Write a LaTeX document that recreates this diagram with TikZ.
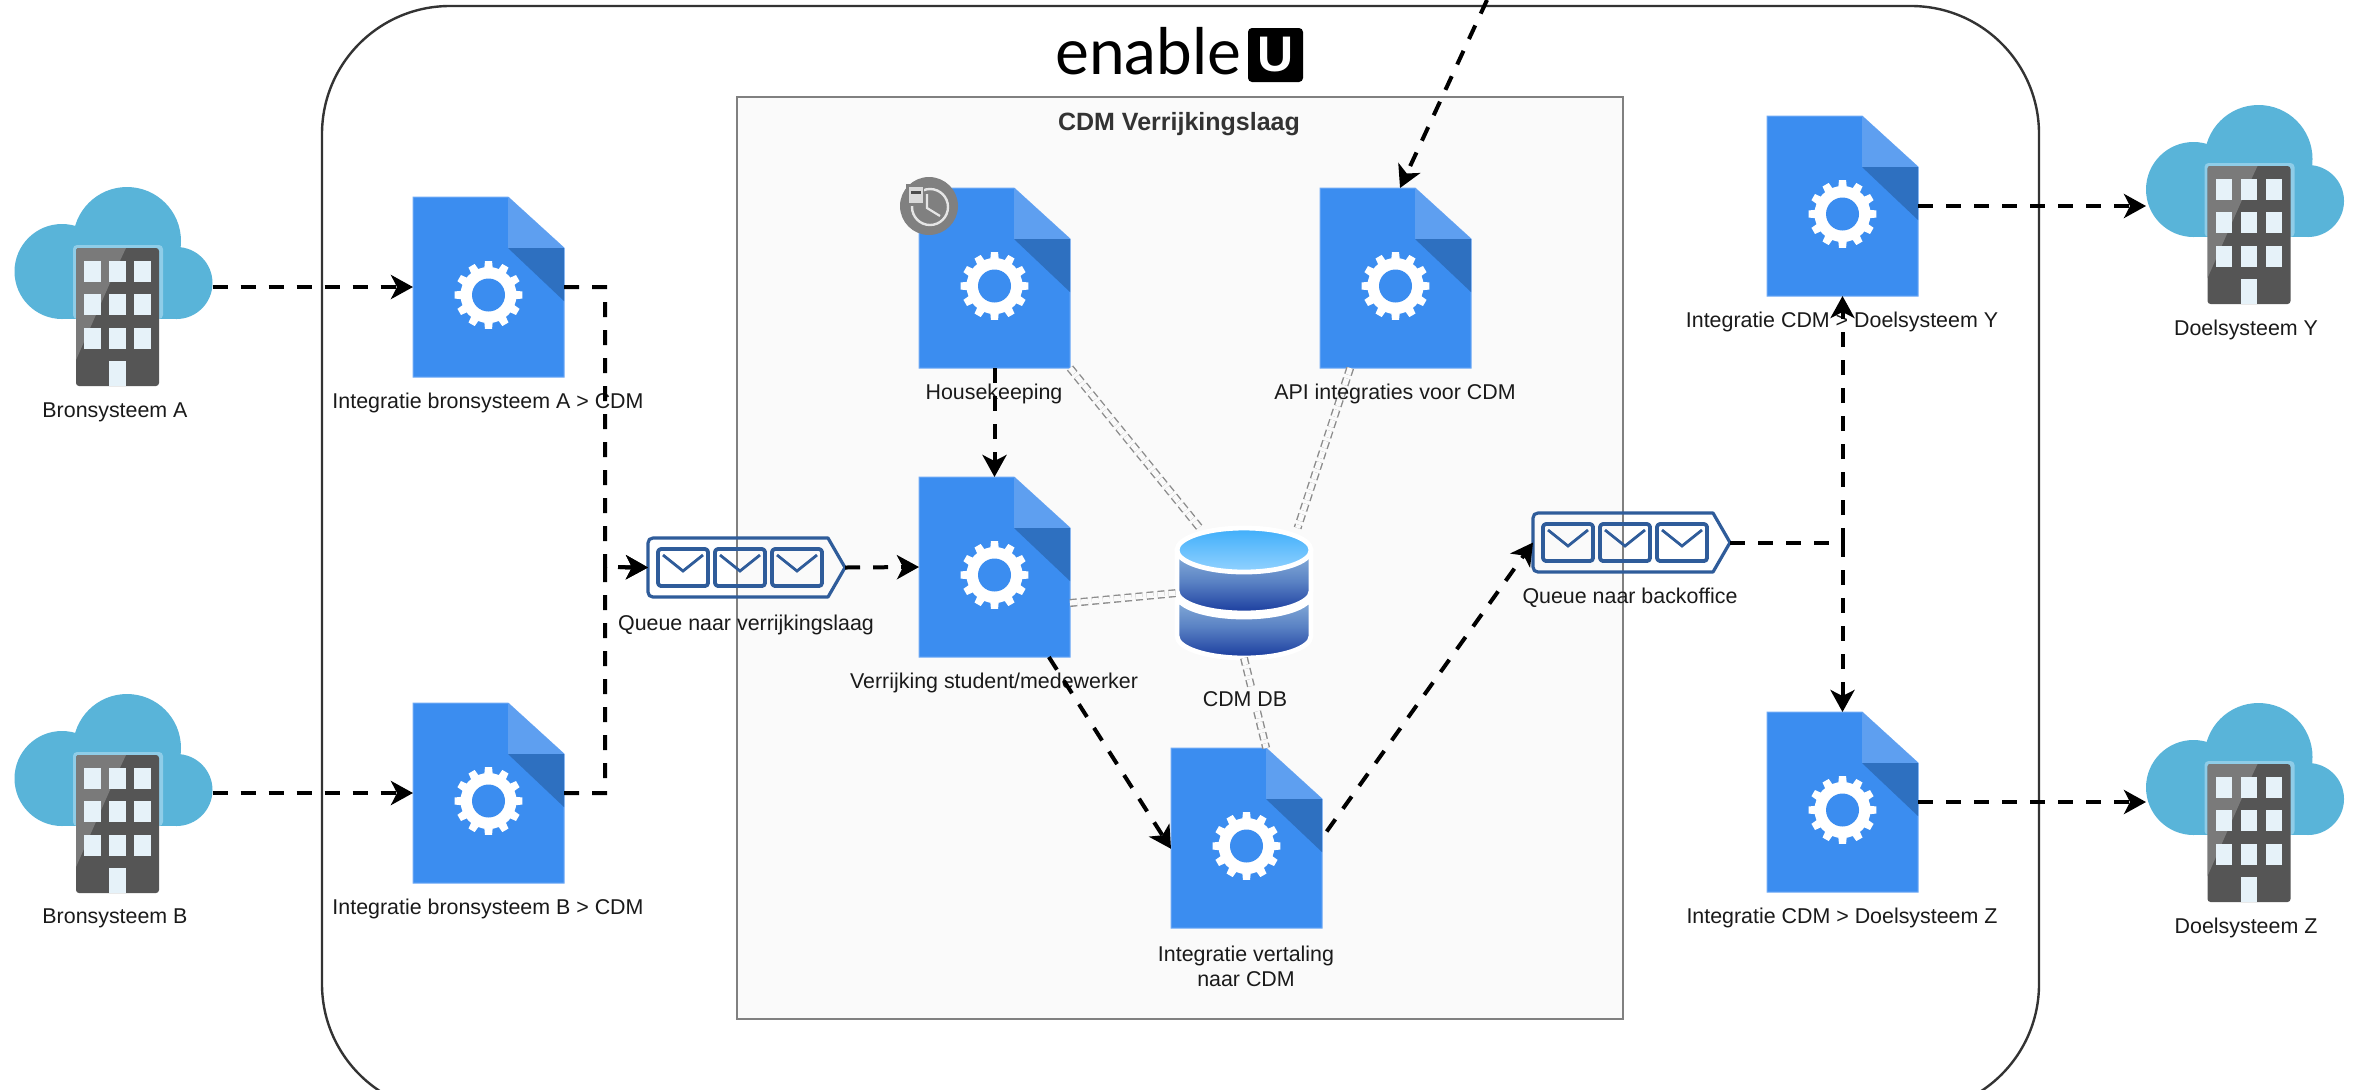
\documentclass[tikz,border=0pt]{standalone}
\usepackage{fontspec}
\setmainfont{Liberation Sans}
\newfontfamily\logofont{Lato}
\usetikzlibrary{arrows.meta,calc}
\definecolor{docmain}{HTML}{3B8DF0}
\definecolor{docedge}{HTML}{6FAAF6}
\definecolor{doclight}{HTML}{5E9FF0}
\definecolor{docdark}{HTML}{2E70C0}
\definecolor{cloudblue}{HTML}{59B4D9}
\definecolor{cloudhalo}{HTML}{8FCDE8}
\definecolor{towerdark}{HTML}{555555}
\definecolor{towerlight}{HTML}{7A7A7A}
\definecolor{towerpane}{HTML}{E6F2F9}
\definecolor{queueblue}{HTML}{2F5C9A}
\definecolor{layerbg}{HTML}{FAFAFA}
\definecolor{txt}{HTML}{1A1A1A}
\definecolor{dbtoptop}{HTML}{3FAEFA}
\definecolor{dbtopbot}{HTML}{92D2FF}
\definecolor{dbbandtop}{HTML}{8DB4DC}
\definecolor{dbbandmid}{HTML}{5A82C4}
\definecolor{dbbandbot}{HTML}{1A3C9E}
\tikzset{
  iconbox/.style 2 args={minimum width=#1*0.5pt,minimum height=#2*0.5pt,inner sep=0pt,outer sep=0pt},
  lbl/.style={font=\fontsize{10.7}{12.5}\selectfont,text=txt,inner sep=0pt,align=center},
  flow/.style={draw=black,line width=2pt,dash pattern=on 7.5pt off 6.5pt,-{Stealth[length=11pt,width=12pt,inset=3pt]}},
  dblink/.style={draw=black!45,line width=.7pt,double=layerbg,double distance=2.6pt,dash pattern=on 3.5pt off 2pt},
  pane/.style={fill=towerpane},
  env/.style={draw=queueblue,line width=1.9pt,rounded corners=1.5pt,line join=round},
  dbband/.style={draw=white,line width=2.4pt,top color=dbbandtop,bottom color=dbbandbot,middle color=dbbandmid},
}
\newcommand{\docicon}[3]{%
  \node[iconbox={151}{180}] (#1) at (#2+75.5,#3+90) {};
  \begin{scope}[shift={(#2,#3)}]
    \fill[docmain,draw=docedge,line width=.5pt] (0,0) -- (95,0) -- (151,51) -- (151,180) -- (0,180) -- cycle;
    \fill[doclight] (95,0) -- (151,51) -- (95,51) -- cycle;
    \fill[docdark] (95,51) -- (151,51) -- (151,104) -- cycle;
    \begin{scope}[shift={(75.5,98)}]
      \fill[white] (0,0) circle[radius=28];
      \foreach \a in {0,30,...,330} {
        \fill[white] (\a-9:27) -- (\a-6:34) -- (\a+6:34) -- (\a+9:27) -- cycle;
      }
      \fill[docmain] (0,0) circle[radius=16.5];
    \end{scope}
  \end{scope}}
\newcommand{\cloudicon}[3]{%
  \node[iconbox={198}{132}] (#1) at (#2+99,#3+66) {};
  \begin{scope}[shift={(#2,#3)}]
    \fill[cloudblue] (47.5,84.5) circle[radius=47.5];
    \fill[cloudblue] (112.5,54) circle[radius=54];
    \fill[cloudblue] (162,96) circle[radius=36];
    \fill[cloudblue] (47.5,60) rectangle (162,132);
    \fill[cloudhalo,rounded corners=2pt] (58.5,58) rectangle (148.5,132);
    \fill[towerdark,rounded corners=1.5pt] (61.5,61) rectangle (144.5,199);
    \fill[towerlight] (63,61) -- (111.5,61) .. controls (100,85) and (85,120) .. (61.5,173) -- (61.5,63) -- cycle;
    \foreach \yy in {74,107,141} {
      \foreach \xx in {69.5,94.5,119.5} {
        \fill[pane] (\xx,\yy) rectangle +(16.5,21);
      }
    }
    \fill[pane] (94.5,174) rectangle (111,199);
  \end{scope}}
\newcommand{\queueicon}[3]{%
  \node[iconbox={197}{59}] (#1) at (#2+98.5,#3+29.5) {};
  \begin{scope}[shift={(#2,#3)}]
    \draw[draw=queueblue,line width=1.6pt,line join=round] (5,0) -- (180,0) -- (197,29.5) -- (180,59) -- (5,59) .. controls (2,59) and (0,57) .. (0,54) -- (0,5) .. controls (0,2) and (2,0) .. (5,0) -- cycle;
    \foreach \xx in {10,67,124} {
      \draw[env] (\xx,11) rectangle +(50,37);
      \draw[draw=queueblue,line width=1.4pt] (\xx+5,17) -- (\xx+25,33) -- (\xx+45,17);
    }
  \end{scope}}
\begin{document}
\begin{tikzpicture}[x=0.5pt,y=-0.5pt]
\useasboundingbox (0,0) rectangle (2354,1089);
\begin{scope}
\clip (0,0) rectangle (2354,1089);
\fill[white] (0,0) rectangle (2354,1089);
% containers
\node[draw=black!80,line width=1.2pt,rounded corners=64pt,inner sep=0pt,outer sep=0pt,minimum width=858.5pt,minimum height=553pt] (outer) at (1180.5,559) {};
\node[draw=black!50,fill=layerbg,line width=.8pt,inner sep=0pt,outer sep=0pt,minimum width=443pt,minimum height=461pt] (layer) at (1180,558) {};
% logo
\node[font=\logofont\fontsize{32}{32}\selectfont,text=black,inner sep=0pt,anchor=base west] (logotext) at (1055,74) {enable};
\node[fill=black,rounded corners=2pt,inner sep=0pt,outer sep=0pt,minimum width=27.5pt,minimum height=27pt,font=\fontsize{25}{25}\selectfont\bfseries,text=white] (logou) at (1275.5,55) {U};
\node[lbl,font=\fontsize{12.5}{14}\selectfont\bfseries,text=black!80] (title) at (1179,124) {CDM Verrijkingslaag};
% icons
\cloudicon{srcA}{14.5}{187}
\cloudicon{srcB}{14.5}{694}
\cloudicon{tgtY}{2146}{105}
\cloudicon{tgtZ}{2146}{703}
\docicon{docA}{413}{197}
\docicon{docB}{413}{703}
\docicon{hk}{919}{188}
\docicon{api}{1320}{188}
\docicon{verr}{919}{477}
\docicon{vert}{1171}{748}
\docicon{docY}{1767}{116}
\docicon{docZ}{1767}{712}
\queueicon{qOne}{648}{538}
\queueicon{qTwo}{1533}{513}
% timer badge
\coordinate (clockc) at (930,207);
\fill[black!50] (929,206) circle[radius=29];
\draw[white!90!black,line width=1.2pt] (clockc) circle[radius=18];
\draw[white!90!black,line width=1.1pt] (927,194) -- (927,208) -- (940,216);
\fill[black!50] (906,184) rectangle (924,206);
\fill[white!85!black] (909,187) rectangle (923,203);
\fill[black!70] (911,191) rectangle (921,193.5);
% database
\node[iconbox={134}{130}] (db) at (1244,593) {};
\path[dbband] (1177,595) -- (1177,636) arc[start angle=180,end angle=0,x radius=67,y radius=22] -- (1311,595) arc[start angle=0,end angle=180,x radius=67,y radius=22] -- cycle;
\path[dbband] (1177,550) -- (1177,591) arc[start angle=180,end angle=0,x radius=67,y radius=22] -- (1311,550) -- cycle;
\path[draw=white,line width=2.4pt,top color=dbtoptop,bottom color=dbtopbot] (1244,550) ellipse[x radius=67,y radius=22];
% database links
\draw[dblink] (hk.south east) -- ($(db.north west)!0.17!(db.north east)$);
\draw[dblink] ($(api.south west)!0.2!(api.south east)$) -- ($(db.north west)!0.9!(db.north east)$);
\draw[dblink] ($(verr.north east)!0.7!(verr.south east)$) -- (db.west);
\draw[dblink] (db.south) -- ($(vert.north west)!0.63!(vert.north east)$);
% labels
\node[lbl] (lSrcA) at (115,412) {Bronsysteem A};
\node[lbl] (lSrcB) at (115,918) {Bronsysteem B};
\node[lbl] (lDocA) at (488,403) {Integratie bronsysteem A > CDM};
\node[lbl] (lDocB) at (488,909) {Integratie bronsysteem B > CDM};
\node[lbl] (lHk) at (994,394) {Housekeeping};
\node[lbl] (lApi) at (1395,394) {API integraties voor CDM};
\node[lbl] (lVerr) at (994,683) {Verrijking student/medewerker};
\node[lbl,fill=layerbg,inner sep=1pt] (lDb) at (1245,699) {CDM DB};
\node[lbl] (lVert) at (1246,966) {Integratie vertaling\\naar CDM};
\node[lbl] (lqOne) at (746,625) {Queue naar verrijkingslaag};
\node[lbl] (lqTwo) at (1630,598) {Queue naar backoffice};
\node[lbl] (lDocY) at (1842,322) {Integratie CDM > Doelsysteem Y};
\node[lbl] (lDocZ) at (1842,918) {Integratie CDM > Doelsysteem Z};
\node[lbl] (lTgtY) at (2246,330) {Doelsysteem Y};
\node[lbl] (lTgtZ) at (2246,928) {Doelsysteem Z};
% connectors
\coordinate (junc) at (605,567);
\coordinate (ext) at (1487,0);
\draw[flow] (srcA.east |- docA.west) -- (docA.west);
\draw[flow] (srcB.east |- docB.west) -- (docB.west);
\draw[flow] (docA.east) -| (junc) -- (qOne.west);
\draw[flow] (docB.east) -| (junc) -- (qOne.west);
\draw[flow] (qOne.east) -- (verr.west);
\draw[flow] (hk.south) -- (verr.north);
\draw[flow] ($(verr.south west)!0.86!(verr.south east)$) -- ($(vert.north west)!0.56!(vert.south west)$);
\draw[flow,shorten <=4pt] (vert.east) -- (qTwo.west);
\draw[flow] (qTwo.east) -| (docY.south);
\draw[flow] (qTwo.east) -| (docZ.north);
\draw[flow] (docY.east) -- (tgtY.west |- docY.east);
\draw[flow] (docZ.east) -- (tgtZ.west |- docZ.east);
\draw[flow] (ext) -- ($(api.north west)!0.53!(api.north east)$);
\end{scope}
\end{tikzpicture}
\end{document}
